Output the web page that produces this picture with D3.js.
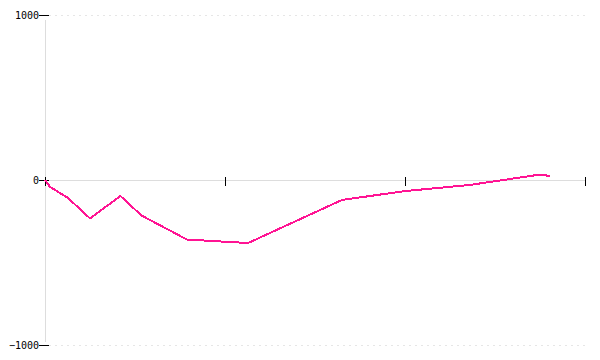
<!DOCTYPE html>
<html>
<head>
<meta charset="utf-8">
<script src="https://cdn.jsdelivr.net/npm/d3@7"></script>
<style>
  html, body { margin: 0; padding: 0; background: #fff; }
  svg { display: block; }
</style>
</head>
<body>
<svg id="chart" width="600" height="360"></svg>
<script>
// Data
const xValues = [0, 0.28, 1.28, 2.5, 4.19, 5.36, 7.89, 11.28, 16.5, 20, 23.6, 27.5, 28.06];
const yValues = [0, -42, -109, -233, -97, -215, -361, -382, -121, -67, -30, 33, 24];
const xTicks = [0, 10, 20, 30];
const yTicks = [1000, 0, -1000];
const yTickLabels = ["1000", "0", "\u22121000"];

const svg = d3.select("#chart");
const x = d3.scaleLinear().domain([0, 30]).range([45, 585]);
const y = d3.scaleLinear().domain([-1000, 1000]).range([345, 15]);

// dotted gridlines at ±1000
svg.append("g").selectAll("line")
  .data(yTicks.filter(d => d !== 0))
  .join("line")
  .attr("x1", x(0) + 4).attr("x2", x(30))
  .attr("y1", d => y(d) + 0.5).attr("y2", d => y(d) + 0.5)
  .attr("stroke", "#e6e6e6").attr("stroke-width", 1)
  .attr("stroke-dasharray", "2,4");

// vertical grey axis line
svg.append("line")
  .attr("x1", x(0) + 0.5).attr("x2", x(0) + 0.5)
  .attr("y1", 20).attr("y2", 342)
  .attr("stroke", "#dddddd").attr("stroke-width", 1);

// horizontal grey axis line at zero
svg.append("line")
  .attr("x1", x(0)).attr("x2", x(30))
  .attr("y1", y(0) + 0.5).attr("y2", y(0) + 0.5)
  .attr("stroke", "#dddddd").attr("stroke-width", 1);

// x ticks (no labels)
svg.append("g").selectAll("line")
  .data(xTicks)
  .join("line")
  .attr("x1", d => Math.round(x(d)) + 0.5).attr("x2", d => Math.round(x(d)) + 0.5)
  .attr("y1", y(0) - 3).attr("y2", y(0) + 6)
  .attr("stroke", "#000").attr("stroke-width", 1);

// y ticks + labels
const yt = svg.append("g").selectAll("g")
  .data(yTicks)
  .join("g")
  .attr("transform", d => `translate(0,${y(d)})`);
yt.append("line")
  .attr("x1", 39).attr("x2", 49)
  .attr("y1", 0.5).attr("y2", 0.5)
  .attr("stroke", "#000").attr("stroke-width", 1);
yt.append("text")
  .attr("x", 39).attr("y", 0).attr("dy", "0.35em")
  .attr("text-anchor", "end")
  .attr("font-family", "DejaVu Sans Mono, monospace")
  .attr("font-size", 10)
  .attr("fill", "#000")
  .text((d, i) => yTickLabels[i]);

// the series line
const data = xValues.map((v, i) => [v, yValues[i]]);
svg.append("path")
  .datum(data)
  .attr("fill", "none")
  .attr("stroke", "#ff1493")
  .attr("stroke-width", 2)
  .attr("shape-rendering", "crispEdges")
  .attr("d", d3.line().x(d => x(d[0])).y(d => y(d[1])));
</script>
</body>
</html>
